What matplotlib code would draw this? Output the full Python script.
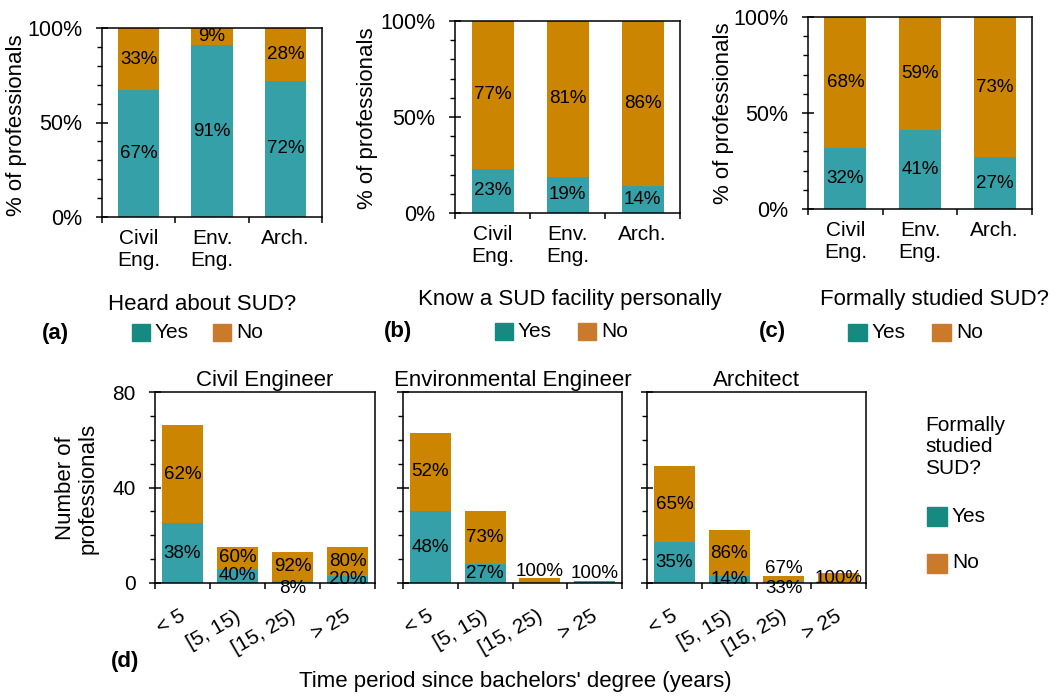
import matplotlib.pyplot as plt
from matplotlib.patches import Rectangle
from matplotlib.ticker import MultipleLocator
from matplotlib.transforms import ScaledTranslation

plt.rcParams['font.family'] = ['Liberation Sans', 'DejaVu Sans']

W, H = 1059, 696
TEAL = '#35a0a8'
ORANGE = '#cc8500'
TEAL_KEY = '#168a80'
ORANGE_KEY = '#c97a2a'

# top row: share of professionals (%)
fields = ['Civil\nEng.', 'Env.\nEng.', 'Arch.']
heard_yes = [67, 91, 72]
heard_no = [33, 9, 28]
know_yes = [23, 19, 14]
know_no = [77, 81, 86]
studied_yes = [32, 41, 27]
studied_no = [68, 59, 73]

# bottom row: counts by years since bachelors' degree
periods = ['< 5', '[5, 15)', '[15, 25)', '> 25']
civil_yes = [25, 6, 1, 3]
civil_no = [41, 9, 12, 12]
env_yes = [30, 8, 0, 1]
env_no = [33, 22, 2, 0]
arch_yes = [17, 3, 1, 0]
arch_no = [32, 19, 2, 4]

fig = plt.figure(figsize=(W / 100, H / 100), dpi=100)


def box(l, t, r, b):
    ax = fig.add_axes([l / W, 1 - b / H, (r - l) / W, (b - t) / H])
    for s in ax.spines.values():
        s.set_linewidth(1.1)
        s.set_color('black')
    return ax


def ftext(x, y, s, **kw):
    kw.setdefault('fontsize', 16)
    kw.setdefault('ha', 'center')
    kw.setdefault('va', 'center')
    fig.text(x / W, 1 - y / H, s, **kw)


def key(x0, yc, color, label, w=18, h=17):
    fig.add_artist(Rectangle((x0 / W, 1 - (yc + h / 2) / H), w / W, h / H,
                             transform=fig.transFigure, color=color))
    ftext(x0 + w + 5, yc, label, ha='left', fontsize=15)


def pct_panel(ax, yes, no):
    x = range(len(yes))
    ax.bar(x, yes, 0.56, color=TEAL)
    ax.bar(x, no, 0.56, bottom=yes, color=ORANGE)
    for i in x:
        ax.text(i, yes[i] / 2, f'{yes[i]}%', ha='center', va='center', fontsize=13.5)
        ax.text(i, yes[i] + no[i] / 2, f'{no[i]}%', ha='center', va='center', fontsize=13.5)
    ax.set_xlim(-0.5, 2.5)
    ax.set_ylim(0, 100)
    ax.set_yticks([0, 50, 100], ['0%', '50%', '100%'])
    ax.yaxis.set_minor_locator(MultipleLocator(10))
    ax.set_xticks([-0.5, 0.5, 1.5, 2.5], [])
    ax.set_xticks(list(x), fields, minor=True)
    ax.tick_params(axis='x', which='minor', length=0, labelsize=15, pad=9)
    ax.tick_params(axis='x', which='major', length=4.5, width=1.1, direction='out')
    ax.tick_params(axis='y', which='major', direction='inout', length=8, width=1.1,
                   labelsize=15.5, pad=10)
    ax.tick_params(axis='y', which='minor', direction='out', length=3.5, width=1)


def count_panel(ax, yes, no, title, show_y):
    x = range(len(yes))
    ax.bar(x, yes, 0.75, color=TEAL)
    ax.bar(x, no, 0.75, bottom=yes, color=ORANGE)
    for i in x:
        total = yes[i] + no[i]
        segs = [(0, yes[i]), (yes[i], no[i])]
        top = max(k for k, (_, h) in enumerate(segs) if h > 0)
        for k, (base, h) in enumerate(segs):
            if h == 0:
                continue
            lab = f'{round(100 * h / total)}%'
            if h >= 2.5:
                y = base + h / 2
            elif k == top:
                y = total + 3
            else:
                y = -2.2
            ax.text(i, y, lab, ha='center', va='center', fontsize=13.5, clip_on=False)
    ax.set_xlim(-0.5, 3.5)
    ax.set_ylim(0, 80)
    ax.set_yticks([0, 40, 80])
    ax.yaxis.set_minor_locator(MultipleLocator(10))
    if not show_y:
        ax.set_yticklabels([])
    ax.set_xticks([-0.5, 0.5, 1.5, 2.5, 3.5], [])
    ax.set_xticks(list(x), periods, minor=True)
    ax.tick_params(axis='x', which='minor', length=0, labelsize=15, pad=17,
                   labelrotation=30)
    for t in ax.get_xticklabels(minor=True):
        t.set_ha('right')
        t.set_transform(t.get_transform() + ScaledTranslation(0.06, 0, fig.dpi_scale_trans))
    ax.tick_params(axis='x', which='major', length=4.5, width=1.1, direction='out')
    ax.tick_params(axis='y', which='major', direction='inout', length=8, width=1.1,
                   labelsize=15, pad=10)
    ax.tick_params(axis='y', which='minor', direction='out', length=3.5, width=1)
    ax.set_title(title, fontsize=16, pad=4)


# (a)
pct_panel(box(102, 28, 322, 217), heard_yes, heard_no)
ftext(17, 125, '% of professionals', rotation=90)
ftext(202, 305, 'Heard about SUD?')
key(132, 333, TEAL_KEY, 'Yes')
key(213, 333, ORANGE_KEY, 'No')
ftext(55, 333, '(a)', fontweight='bold')

# (b)
pct_panel(box(455, 21, 680, 213), know_yes, know_no)
ftext(368, 118, '% of professionals', rotation=90)
ftext(570, 300, 'Know a SUD facility personally')
key(495, 331, TEAL_KEY, 'Yes')
key(578, 331, ORANGE_KEY, 'No')
ftext(398, 331, '(b)', fontweight='bold')

# (c)
pct_panel(box(808, 17, 1032, 209), studied_yes, studied_no)
ftext(724, 113, '% of professionals', rotation=90)
ftext(934, 300, 'Formally studied SUD?')
key(848, 332, TEAL_KEY, 'Yes', w=19)
key(932, 332, ORANGE_KEY, 'No', w=19)
ftext(772, 332, '(c)', fontweight='bold')

# (d)
count_panel(box(155, 392, 375, 583), civil_yes, civil_no, 'Civil Engineer', True)
count_panel(box(403, 392, 622, 583), env_yes, env_no, 'Environmental Engineer', False)
count_panel(box(647, 392, 866, 583), arch_yes, arch_no, 'Architect', False)
ftext(77, 488, 'Number of\nprofessionals', rotation=90, linespacing=1.1)
ftext(515, 681, "Time period since bachelors' degree (years)")
ftext(125, 661, '(d)', fontweight='bold')
ftext(925, 447, 'Formally\nstudied\nSUD?', ha='left', fontsize=15, linespacing=1.15)
key(927, 516, TEAL_KEY, 'Yes', w=20, h=19)
key(927, 563, ORANGE_KEY, 'No', w=20, h=19)

fig.savefig('out.png', dpi=100)
